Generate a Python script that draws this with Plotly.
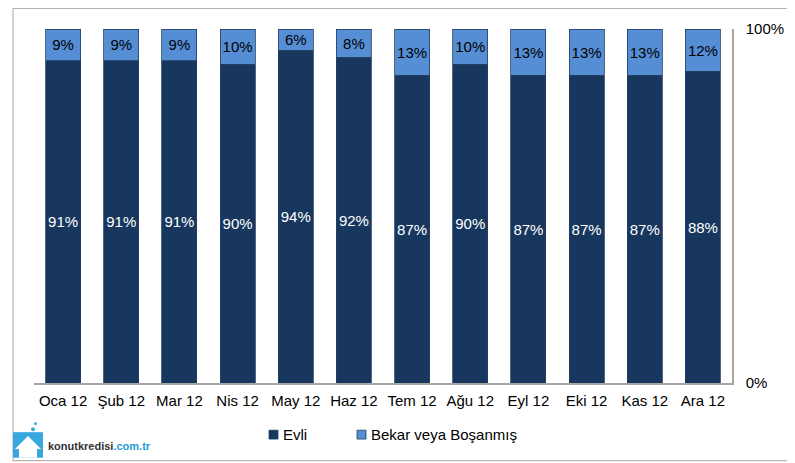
import plotly.graph_objects as go

months = ["Oca 12", "Şub 12", "Mar 12", "Nis 12", "May 12", "Haz 12",
          "Tem 12", "Ağu 12", "Eyl 12", "Eki 12", "Kas 12", "Ara 12"]
evli = [91, 91, 91, 90, 94, 92, 87, 90, 87, 87, 87, 88]
bekar = [9, 9, 9, 10, 6, 8, 13, 10, 13, 13, 13, 12]
series_names = ["Evli", "Bekar veya Boşanmış"]
y_ticks = [0, 100]
y_tick_labels = ["0%", "100%"]

DARK = "#17375E"
LIGHT = "#558ED5"
EDGE = "#243F60"
FONT = "Liberation Sans, Arial, sans-serif"

OFF = 8  # browser default body margin
W, H = 795, 463
# plot area in page coordinates: x 34..732, y 23..383
L, T = 34 - OFF, 23 - OFF
pw, ph = 698, 360
R = W - L - pw
B = H - T - ph


def px(x):
    return (x - OFF - L) / pw


def py(y):
    return (T + ph - (y - OFF)) / ph


fig = go.Figure()
fig.add_trace(go.Bar(
    x=months, y=evli, name=series_names[0],
    marker=dict(color=DARK, line=dict(color=EDGE, width=0.8)),
    texttemplate="%{y}%", textposition="inside", insidetextanchor="middle",
    textangle=0, textfont=dict(color="white", size=15, family=FONT),
    showlegend=False,
))
fig.add_trace(go.Bar(
    x=months, y=bekar, name=series_names[1],
    marker=dict(color=LIGHT, line=dict(color=EDGE, width=0.8)),
    texttemplate="%{y}%", textposition="inside", insidetextanchor="middle",
    textangle=0, textfont=dict(color="black", size=15, family=FONT),
    showlegend=False,
))

shapes = [
    # outer frame
    dict(type="rect", xref="paper", yref="paper",
         x0=px(13), x1=px(800), y0=py(462), y1=py(2),
         line=dict(color="#A6A6A6", width=1), layer="below"),
    # legend swatches
    dict(type="rect", xref="paper", yref="paper",
         x0=px(269), x1=px(278), y0=py(440), y1=py(431),
         fillcolor=DARK, line=dict(color=EDGE, width=0.8)),
    dict(type="rect", xref="paper", yref="paper",
         x0=px(357), x1=px(366), y0=py(440), y1=py(431),
         fillcolor=LIGHT, line=dict(color=EDGE, width=0.8)),
    # logo: blue block
    dict(type="rect", xref="paper", yref="paper",
         x0=px(13), x1=px(43), y0=py(459), y1=py(433),
         fillcolor="#3AA8E0", line=dict(width=0)),
    # logo: white house
    dict(type="path", xref="paper", yref="paper",
         path="M {a},{b} L {c},{d} L {e},{f} L {g},{f} L {g},{h} L {i},{h} L {i},{f} Z".format(
             a=px(15), b=py(450), c=px(28), d=py(437), e=px(41), f=py(450),
             g=px(37), h=py(459), i=px(19)),
         fillcolor="white", line=dict(width=0)),
    dict(type="circle", xref="paper", yref="paper",
         x0=px(31), x1=px(35), y0=py(432), y1=py(428),
         fillcolor="#3AA8E0", line=dict(width=0)),
    dict(type="circle", xref="paper", yref="paper",
         x0=px(34), x1=px(37), y0=py(426), y1=py(423),
         fillcolor="#3AA8E0", line=dict(width=0)),
]

annotations = [
    dict(text=series_names[0], xref="paper", yref="paper", x=px(281), y=py(435),
         xanchor="left", yanchor="middle", showarrow=False,
         font=dict(size=15, color="black", family=FONT)),
    dict(text=series_names[1], xref="paper", yref="paper", x=px(369), y=py(435),
         xanchor="left", yanchor="middle", showarrow=False,
         font=dict(size=15, color="black", family=FONT)),
    dict(text='<b>konutkredisi<span style="color:#1E9BD7">.com.tr</span></b>',
         xref="paper", yref="paper", x=px(46), y=py(447),
         xanchor="left", yanchor="middle", showarrow=False,
         font=dict(size=11, color="#333333", family=FONT)),
]

fig.update_layout(
    width=W, height=H,
    margin=dict(l=L, r=R, t=T, b=B, pad=0),
    paper_bgcolor="white", plot_bgcolor="white",
    barmode="stack", bargap=0.397,
    font=dict(family=FONT, size=15, color="black"),
    uniformtext=dict(minsize=15, mode="show"),
    shapes=shapes, annotations=annotations,
    showlegend=False,
)
fig.update_xaxes(
    showline=True, linecolor="#A6A6A6", linewidth=1.5,
    showgrid=False, ticks="", ticklabelstandoff=3,
    tickfont=dict(size=15, color="black"), fixedrange=True,
)
fig.update_yaxes(
    side="right", range=[0, 100], tickvals=y_ticks, ticktext=y_tick_labels,
    showline=True, linecolor="#A6A6A6", linewidth=1.5,
    showgrid=False, zeroline=False, ticks="", ticklabelstandoff=9,
    tickfont=dict(size=15, color="black"), fixedrange=True,
)

fig.write_html("out.html")
